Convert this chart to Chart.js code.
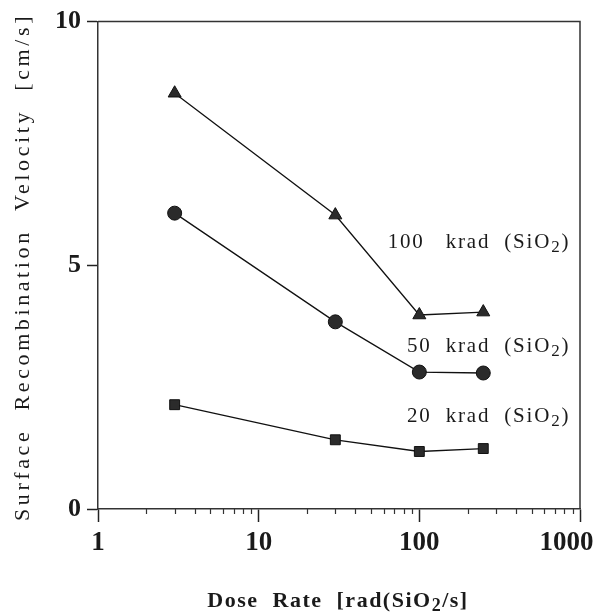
<!DOCTYPE html>
<html>
<head>
<meta charset="utf-8">
<script src="https://cdn.jsdelivr.net/npm/chart.js@4.4.0/dist/chart.umd.min.js"></script>
<style>
html,body{margin:0;padding:0;background:#fff;}
#wrap{width:605px;height:615px;position:relative;}
</style>
</head>
<body>
<div id="wrap"><canvas id="c"></canvas></div>
<script>
// ---- data ----
const doseRates = [3, 30, 100, 250];
const srv100krad = [8.53, 6.03, 3.98, 4.04];
const srv50krad = [6.07, 3.84, 2.81, 2.79];
const srv20krad = [2.14, 1.42, 1.18, 1.24];
const seriesNames = ["100 krad (SiO2)", "50 krad (SiO2)", "20 krad (SiO2)"];
const xTickValues = [1, 10, 100, 1000];
const yTickValues = [0, 5, 10];
const xTitle = "Dose Rate [rad(SiO2/s]";
const yTitle = "Surface Recombination Velocity [cm/s]";

const SERIF = '"Liberation Serif", "DejaVu Serif", serif';
const INK = '#1a1a1a';

function pts(ys){ return doseRates.map((x,i)=>({x:x, y:ys[i]})); }

// draw text with a subscript "2" where "SiO2" appears
function drawSubText(ctx, text, x, y, size, weight, spacing, align){
  const parts = [];
  let idx = text.indexOf('O2');
  if (idx >= 0){
    parts.push({t:text.slice(0, idx+1), sub:false});
    parts.push({t:'2', sub:true});
    parts.push({t:text.slice(idx+2), sub:false});
  } else parts.push({t:text, sub:false});
  const fMain = weight + ' ' + size + 'px ' + SERIF;
  const fSub = weight + ' ' + Math.round(size*0.8) + 'px ' + SERIF;
  ctx.letterSpacing = spacing + 'px';
  let total = 0;
  parts.forEach(p=>{ ctx.font = p.sub ? fSub : fMain; p.w = ctx.measureText(p.t).width; total += p.w; });
  let cx = align === 'right' ? x - total : (align === 'center' ? x - total/2 : x);
  ctx.textBaseline = 'alphabetic';
  ctx.textAlign = 'left';
  parts.forEach(p=>{
    ctx.font = p.sub ? fSub : fMain;
    ctx.fillText(p.t, cx, y + (p.sub ? size*0.2 : 0));
    cx += p.w;
  });
  ctx.letterSpacing = '0px';
}

const decorPlugin = {
  id: 'decor',
  afterDraw(chart){
    const ctx = chart.ctx;
    const a = chart.chartArea;
    const xs = chart.scales.x, ys = chart.scales.y;
    ctx.save();
    // frame (top and right)
    ctx.strokeStyle = '#333';
    ctx.lineWidth = 1.5;
    ctx.beginPath();
    ctx.moveTo(a.left, a.top); ctx.lineTo(a.right, a.top); ctx.lineTo(a.right, a.bottom);
    ctx.stroke();
    // minor log ticks
    ctx.lineWidth = 1.2;
    ctx.beginPath();
    for (let d = 1; d < 1000; d *= 10){
      for (let m = 2; m <= 9; m++){
        const px = Math.round(xs.getPixelForValue(d*m)) + 0.5;
        ctx.moveTo(px, a.bottom); ctx.lineTo(px, a.bottom + 5);
      }
    }
    ctx.stroke();
    // series labels
    ctx.fillStyle = INK;
    const labelY = [5.5, 3.36, 1.93];
    seriesNames.forEach((n,i)=>{
      let t = n.replace(/ /g,'  ');
      if (i === 0) t = t.replace('100  ', '100   ');
      drawSubText(ctx, t, xs.getPixelForValue(870), ys.getPixelForValue(labelY[i]) + 7, 21, 'normal', 1.8, 'right');
    });
    // x axis title
    drawSubText(ctx, xTitle.replace(/ /g,'  '), 338, 607, 22, 'bold', 1.5, 'center');
    // y axis title (rotated)
    ctx.translate(29, 267);
    ctx.rotate(-Math.PI/2);
    drawSubText(ctx, yTitle.replace(/ /g,'  '), 0, 0, 22, 'normal', 3.6, 'center');
    ctx.restore();
  }
};

const markerStyle = (shape, r) => ({
  pointStyle: shape, pointRadius: r, pointHoverRadius: r,
  pointBackgroundColor: '#2b2b2b', pointBorderColor: '#111', pointBorderWidth: 1,
  borderColor: '#111', borderWidth: 1.3, showLine: true, fill: false, tension: 0
});

new Chart(document.getElementById('c'), {
  type: 'scatter',
  data: {
    datasets: [
      Object.assign({label: seriesNames[0], data: pts(srv100krad)}, markerStyle('triangle', 7.5)),
      Object.assign({label: seriesNames[1], data: pts(srv50krad)}, markerStyle('circle', 7)),
      Object.assign({label: seriesNames[2], data: pts(srv20krad)}, markerStyle('rect', 7))
    ]
  },
  options: {
    responsive: true,
    maintainAspectRatio: false,
    animation: false,
    layout: { padding: { top: 21, right: 25, left: 0, bottom: 0 } },
    plugins: { legend: { display: false }, tooltip: { enabled: false } },
    scales: {
      x: {
        type: 'logarithmic', min: 1, max: 1000,
        afterBuildTicks(s){ s.ticks = xTickValues.map(v => ({value: v, major: true})); },
        afterFit(s){ s.height = 615 - 509; s.paddingLeft = 0; s.paddingRight = 0; },
        grid: { drawOnChartArea: false, drawTicks: true, tickLength: 13, tickColor: '#222', tickWidth: 1.5 },
        border: { display: true, color: '#333', width: 1.5 },
        ticks: {
          autoSkip: false, maxRotation: 0, padding: 5, color: INK,
          font: { family: SERIF, size: 27, weight: 'bold' },
          callback: (v) => (v === 1000 ? '1000\u2002\u2002' : String(v))
        }
      },
      y: {
        min: 0, max: 10,
        afterBuildTicks(s){ s.ticks = yTickValues.map(v => ({value: v})); },
        afterFit(s){ s.width = 98; },
        grid: { drawOnChartArea: false, drawTicks: true, tickLength: 11, tickColor: '#222', tickWidth: 1.5 },
        border: { display: true, color: '#333', width: 1.5 },
        ticks: {
          padding: 6, color: INK,
          font: { family: SERIF, size: 26, weight: 'bold' },
          callback: (v) => String(v)
        }
      }
    }
  },
  plugins: [decorPlugin]
});
</script>
</body>
</html>
